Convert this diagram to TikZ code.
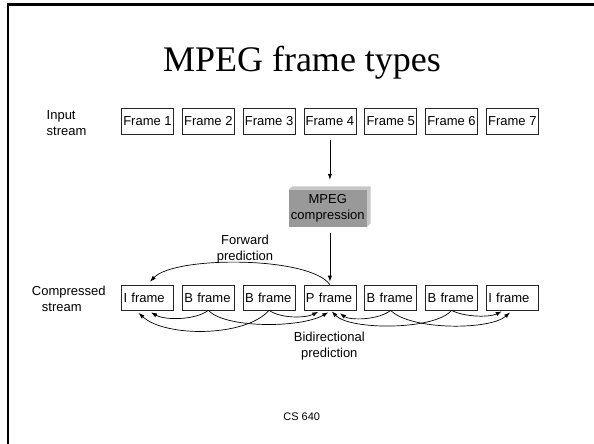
\documentclass[tikz,border=0pt]{standalone}
\usepackage{fontspec}
\setmainfont{Liberation Sans}
\newfontfamily\titlefont{Liberation Serif}
\usetikzlibrary{arrows.meta}
\begin{document}
\begin{tikzpicture}[x=1pt,y=-1pt,
  txt/.style={font=\fontsize{13}{15.8}\selectfont, inner sep=0pt},
  inbox/.style={draw=black!85, line width=0.7pt, minimum width=52pt,
    minimum height=26pt, inner sep=0pt, font=\fontsize{13}{15.8}\selectfont},
  outbox/.style={inbox, minimum height=25pt, text width=48pt, align=left,
    inner xsep=2pt},
  arr/.style={-{Latex[length=6pt,width=4.2pt]}, line width=0.7pt},
  face/.style={fill=black!40, minimum width=78pt, minimum height=36.7pt,
    inner sep=0pt, align=center, font=\fontsize{13}{16.6}\selectfont},
  bevel/.style={fill=black!22}]
\useasboundingbox (0,0) rectangle (594,444);

% slide frame
\draw[line width=2.3pt, line join=miter] (7.8,444) -- (7.8,4.5) -- (594,4.5);

% title
\node[font=\titlefont\fontsize{36}{40}\selectfont, anchor=base, inner sep=0pt]
  (title) at (302,71) {MPEG frame types};

% row labels
\node[txt, align=left, anchor=west] (inlab) at (46.5,122.8) {Input\\stream};
\node[txt, align=left, anchor=west] (cmplab) at (31.7,298.5)
  {Compressed\\\hspace*{10pt}stream};

% input stream
\foreach \i/\x in {1/147.5,2/208.3,3/269.1,4/329.9,5/390.7,6/451.5,7/512.3}
  \node[inbox] (f\i) at (\x,121.3) {Frame \i};

% compressed stream
\node[outbox] (i1) at (147.5,297.5) {I frame};
\node[outbox] (b1) at (208.3,297.5) {B frame};
\node[outbox] (b2) at (269.1,297.5) {B frame};
\node[outbox] (p)  at (329.9,297.5) {P frame};
\node[outbox] (b3) at (390.7,297.5) {B frame};
\node[outbox] (b4) at (451.5,297.5) {B frame};
\node[outbox] (i2) at (512.3,297.5) {I frame};

% compression block with bevelled edge
\node[face] (mpeg) at (327.8,208.4) {MPEG\\compression};
\fill[bevel] (mpeg.north west) -- ++(3.5,-3.5)
  -- ([xshift=3.5pt,yshift=3.5pt]mpeg.north east)
  -- ([xshift=3.5pt,yshift=3.5pt]mpeg.south east)
  -- (mpeg.south east) -- (mpeg.north east) -- cycle;

\coordinate (mtop) at (f4.south |- mpeg.north);
\coordinate (mbot) at (p.north |- mpeg.south);
\draw[arr] ([yshift=-5pt]f4.south) -- ([yshift=10pt]mtop);
\draw[arr] ([yshift=-6pt]mbot) -- ([yshift=3pt]p.north);

% forward prediction
\node[txt, align=center] (fwd) at (245,249.5) {Forward\\prediction};
\draw[arr] (p.north) .. controls +(-20,-28.5) and +(25,-26)
  .. ([xshift=2.5pt,yshift=3pt]i1.north);

% bidirectional prediction
\draw[arr] (b1.south) .. controls +(-13.3,10) and +(14,8)
  .. ([xshift=3.5pt,yshift=-2pt]i1.south);
\draw[arr] (b2.south) .. controls +(-24,27) and +(26.5,24.5)
  .. ([xshift=-9pt,yshift=-2.5pt]i1.south);
\draw[arr] (b1.south) .. controls +(16.7,18) and +(-28.3,16)
  .. ([xshift=-1.6pt,yshift=-2pt]p.south);
\draw[arr] (b2.south) .. controls +(11,8) and +(-13.3,6.5)
  .. ([xshift=-11.6pt,yshift=-1.5pt]p.south);
\draw[arr] (b3.south) .. controls +(-12.7,10) and +(10,7)
  .. ([xshift=10pt,yshift=-3pt]p.south);
\draw[arr] (b4.south) .. controls +(-16.5,20) and +(18.3,19)
  .. ([xshift=1.8pt,yshift=-1pt]p.south);
\draw[arr] (b3.south) .. controls +(19.3,20) and +(-20,18)
  .. ([xshift=-2.3pt,yshift=-2pt]i2.south);
\draw[arr] (b4.south) .. controls +(13.5,7) and +(-11.7,6)
  .. ([xshift=-10.6pt,yshift=-1pt]i2.south);
\node[txt, align=center] (bid) at (329.3,346) {Bidirectional\\prediction};

% footer
\node[font=\fontsize{11}{13}\selectfont, inner sep=0pt] (foot) at (301.7,416.7) {CS 640};
\end{tikzpicture}
\end{document}
